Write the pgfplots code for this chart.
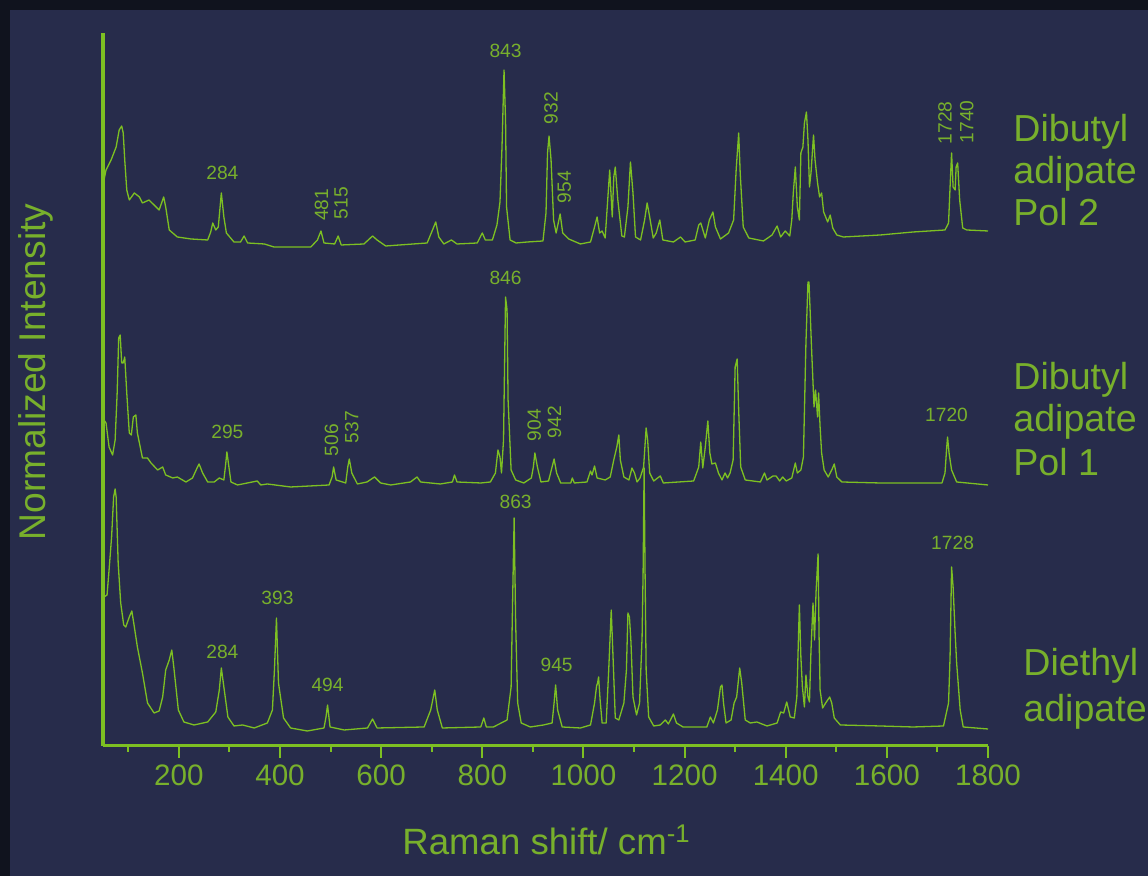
\documentclass[border=0pt]{standalone}
\usepackage{pgfplots}
\pgfplotsset{compat=1.18}
\usepackage{pgfplotstable}
\usepackage{fontspec}
\setmainfont{Liberation Sans}

\definecolor{bgnavy}{HTML}{272C4B}
\definecolor{edge}{HTML}{10131E}
\definecolor{spec}{HTML}{7DC022}
\definecolor{lbl}{HTML}{78B02C}

\tikzset{peak/.style={font=\fontsize{9.6}{9.6}\selectfont, text=lbl, inner sep=0pt}}

% Raman spectra, stacked with vertical offsets (arbitrary intensity units)
\pgfplotstableread{
x y
52 566
56 576
66 586
76 599
82 616
87 620
90 613
93 586
97 556
102 546
112 553
122 549
128 543
141 546
151 541
161 536
170 549
174 539
181 516
197 509
224 507
257 506
263 514
267 523
273 516
278 519
284 553
289 529
294 513
309 504
322 504
329 510
336 503
369 502
388 499
461 499
474 506
481 515
487 503
508 502
515 510
521 501
566 502
583 510
592 506
609 500
691 503
704 519
708 524
714 509
724 502
739 506
750 502
790 503
800 513
806 506
820 506
829 521
835 544
839 599
843 676
846 626
848 539
855 506
867 503
889 504
920 505
926 533
929 593
932 610
936 586
941 526
946 513
954 532
959 513
971 507
994 502
1014 504
1022 519
1027 529
1032 513
1037 515
1043 508
1048 546
1052 576
1057 529
1060 569
1063 579
1068 546
1076 510
1081 509
1088 539
1093 584
1098 553
1103 509
1113 506
1121 526
1126 543
1131 529
1138 508
1144 513
1151 526
1157 506
1178 504
1192 509
1201 504
1221 506
1228 521
1232 523
1241 508
1249 526
1256 534
1261 519
1271 507
1287 513
1297 526
1302 576
1307 613
1310 573
1316 519
1327 508
1356 505
1373 511
1383 520
1390 509
1399 515
1408 510
1412 526
1415 553
1419 579
1423 539
1427 526
1430 593
1434 599
1437 623
1441 634
1444 606
1447 559
1450 573
1455 611
1458 586
1463 563
1467 549
1471 553
1475 534
1483 524
1488 531
1493 518
1501 511
1514 509
1587 511
1652 514
1715 516
1722 523
1725 559
1728 593
1731 559
1735 556
1737 579
1740 583
1744 546
1750 518
1758 516
1800 515
}\pol

\pgfplotstableread{
x y
52 326
56 323
62 299
69 291
74 306
78 353
81 408
84 411
87 383
90 383
93 389
97 353
102 313
106 311
110 329
115 331
118 313
128 288
138 288
145 283
158 276
168 279
174 271
188 268
197 269
214 264
227 268
236 278
240 282
247 273
257 264
270 264
280 268
289 266
292 279
295 294
299 279
303 264
316 261
355 265
362 261
375 262
421 259
497 261
503 269
506 279
511 266
530 263
534 279
537 287
542 273
553 262
572 264
587 269
599 263
619 261
658 264
671 269
678 264
717 262
741 264
745 271
750 264
797 263
816 264
826 273
831 296
835 289
838 273
842 306
844 379
846 449
849 436
851 346
857 276
866 266
882 263
897 268
901 279
904 293
909 279
916 264
931 265
938 279
942 287
947 273
955 263
975 263
978 268
982 263
1007 264
1014 275
1017 271
1022 280
1027 268
1043 266
1053 269
1060 286
1066 299
1070 311
1073 286
1080 269
1090 266
1096 278
1101 273
1106 264
1112 268
1119 279
1124 318
1127 306
1131 273
1139 265
1152 270
1158 263
1218 265
1228 279
1232 304
1236 278
1241 299
1246 325
1250 293
1254 282
1261 283
1267 273
1274 266
1280 273
1285 268
1290 273
1296 286
1300 379
1304 387
1307 336
1311 279
1320 266
1350 264
1358 273
1363 266
1375 270
1381 270
1388 265
1394 269
1401 265
1412 268
1419 283
1423 273
1430 276
1435 289
1440 403
1444 464
1446 464
1448 439
1451 399
1456 339
1459 356
1463 329
1465 353
1468 319
1471 293
1476 276
1484 269
1491 276
1496 282
1501 269
1511 264
1587 263
1709 263
1715 273
1718 296
1720 309
1723 293
1728 276
1738 264
1800 261
}\polone

\pgfplotstableread{
x y
52 149
58 151
62 176
67 209
71 249
74 257
76 249
80 183
85 143
91 121
95 119
102 129
107 135
112 119
118 99
128 73
138 43
151 33
161 35
168 49
174 76
181 86
186 96
190 79
199 36
210 24
230 21
257 24
273 34
280 56
284 78
289 59
297 29
309 20
326 21
349 18
375 23
385 36
389 76
393 128
397 63
407 28
421 18
454 15
487 18
491 29
494 41
499 19
527 16
573 18
583 27
592 18
685 19
698 36
706 56
711 36
721 18
797 19
803 28
808 19
822 19
849 26
857 59
860 146
863 228
866 123
870 43
877 23
895 19
921 21
938 23
942 43
945 61
949 36
958 19
994 18
1014 21
1022 43
1026 60
1028 63
1030 69
1033 46
1037 23
1045 23
1050 76
1055 136
1059 83
1063 28
1070 26
1080 43
1085 76
1088 133
1091 129
1094 104
1098 49
1105 31
1111 43
1116 109
1118 173
1120 278
1122 169
1124 76
1129 29
1139 20
1152 21
1162 26
1168 22
1178 32
1184 23
1197 19
1244 19
1251 29
1257 23
1265 36
1271 59
1274 61
1277 43
1282 23
1292 26
1298 43
1303 49
1309 78
1313 63
1320 26
1330 23
1343 24
1363 20
1383 23
1390 34
1396 33
1402 44
1409 29
1417 28
1422 49
1427 141
1430 89
1433 59
1437 39
1440 71
1444 49
1447 44
1450 96
1454 143
1457 106
1460 154
1464 192
1466 109
1468 56
1473 38
1479 43
1487 49
1491 43
1496 28
1508 21
1587 20
1652 19
1712 20
1722 43
1725 89
1728 179
1731 159
1735 113
1738 83
1745 36
1751 19
1800 17
}\diethyl

\begin{document}
\begin{tikzpicture}[x=0.5pt,y=0.5pt]
% background with a darker edge at top and left
\fill[edge] (0,0) rectangle (1148,876);
\fill[bgnavy] (10,0) rectangle (1148,866);

\begin{axis}[
  at={(51.5pt,65pt)}, anchor=south west,
  scale only axis, width=442.5pt, height=356.5pt,
  xmin=50, xmax=1800, ymin=0, ymax=713,
  axis x line=bottom, axis y line=left,
  axis line style={-, line width=1.5pt, spec},
  xtick={200,400,...,1800}, minor xtick={100,300,...,1700}, ytick=\empty,
  tick align=outside, major tick length=6pt, minor tick length=3pt,
  every tick/.style={spec, line width=1pt},
  xticklabel style={font=\fontsize{14.8}{14.8}\selectfont, text=lbl,
    /pgf/number format/1000 sep={}},
  /pgf/number format/assume math mode=true,
  clip=false,
]
\addplot[spec, line width=0.65pt, line join=round, no markers] table[x=x,y=y] {\pol};
\addplot[spec, line width=0.65pt, line join=round, no markers] table[x=x,y=y] {\polone};
\addplot[spec, line width=0.65pt, line join=round, no markers] table[x=x,y=y] {\diethyl};

% peak positions, Dibutyl adipate Pol 2
\node[peak] at (axis cs:846,695) {843};
\node[peak] at (axis cs:286,573) {284};
\node[peak, rotate=90] at (axis cs:482,541) {481};
\node[peak, rotate=90] at (axis cs:521,543) {515};
\node[peak, rotate=90] at (axis cs:936,638) {932};
\node[peak, rotate=90] at (axis cs:962,559) {954};
\node[peak, rotate=90] at (axis cs:1715,623) {1728};
\node[peak, rotate=90] at (axis cs:1758,624) {1740};
% Dibutyl adipate Pol 1
\node[peak] at (axis cs:846,468) {846};
\node[peak] at (axis cs:296,314) {295};
\node[peak, rotate=90] at (axis cs:502,306) {506};
\node[peak, rotate=90] at (axis cs:542,319) {537};
\node[peak, rotate=90] at (axis cs:903,321) {904};
\node[peak, rotate=90] at (axis cs:943,324) {942};
\node[peak] at (axis cs:1718,331) {1720};
% Diethyl adipate
\node[peak] at (axis cs:866,244) {863};
\node[peak] at (axis cs:395,148) {393};
\node[peak] at (axis cs:286,94) {284};
\node[peak] at (axis cs:494,61) {494};
\node[peak] at (axis cs:947,81) {945};
\node[peak] at (axis cs:1730,203) {1728};
\end{axis}

% axis titles
\node[anchor=base west, text=lbl, font=\fontsize{18.3}{18.3}\selectfont, inner sep=0pt]
  at (402,21) {Raman shift/ cm\textsuperscript{-1}};
\node[anchor=base, rotate=90, text=lbl, font=\fontsize{18.6}{18.6}\selectfont, inner sep=0pt]
  at (45,504) {Normalized Intensity};

% sample names
\begin{scope}[every node/.style={anchor=base west, text=lbl, inner sep=0pt,
    font=\fontsize{18.8}{18.8}\selectfont}]
\node at (1013,734) {Dibutyl};
\node at (1013,692) {adipate};
\node at (1013,650) {Pol 2};
\node at (1013,486) {Dibutyl};
\node at (1013,444) {adipate};
\node at (1013,400) {Pol 1};
\node at (1023,200) {Diethyl};
\node at (1023,154) {adipate};
\end{scope}

\pgfresetboundingbox
\useasboundingbox (0,0) rectangle (1148,876);
\end{tikzpicture}
\end{document}
